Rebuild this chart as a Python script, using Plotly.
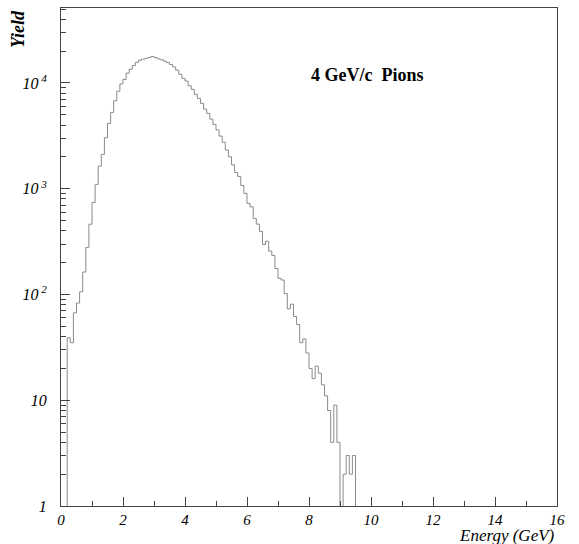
import numpy as np
import plotly.graph_objects as go

# Histogram: 160 bins of 0.1 GeV from 0 to 16 GeV
bin_width = 0.1
bin_low = np.round(np.arange(160) * bin_width, 1)

counts_main = [
    0, 0, 39, 35, 67, 83, 106, 163, 279, 462,            # 0.0 - 0.9
    741, 1100, 1636, 2113, 3033, 4150, 5275, 6800, 8350, 9800,   # 1.0 - 1.9
    10800, 12400, 13500, 14600, 15700, 16400, 16800, 17100, 17400, 17800,  # 2.0 - 2.9
    17400, 16900, 16600, 16100, 15600, 14950, 14200, 13240, 12100, 11050,  # 3.0 - 3.9
    10420, 9410, 8700, 7800, 7150, 6410, 5660, 5155, 4555, 4060,  # 4.0 - 4.9
    3600, 3150, 2750, 2318, 2004, 1683, 1426, 1307, 1074, 903,    # 5.0 - 5.9
    726, 674, 524, 463, 395, 297, 319, 257, 234, 176,             # 6.0 - 6.9
    142, 137, 102, 73, 81, 62, 52, 35, 38, 28,                    # 7.0 - 7.9
    20, 16, 21, 18, 14, 11, 8, 4, 9, 4,                           # 8.0 - 8.9
    0, 2, 3, 2, 3,                                                # 9.0 - 9.4
]
counts = np.array(counts_main + [0] * (160 - len(counts_main)), dtype=float)

y_tickvals = [1, 10, 100, 1000, 10000]
y_ticktext = ["1", "10", "10<sup> 2</sup>", "10<sup> 3</sup>", "10<sup> 4</sup>"]
x_tickvals = [0, 2, 4, 6, 8, 10, 12, 14, 16]
x_ticktext = ["0", "2", "4", "6", "8", "10", "12", "14", "16"]

# step outline (empty bins pushed below the visible log range)
x_step = np.append(bin_low, 16.0)
y_disp = np.where(counts > 0, counts, 1e-3)
y_step = np.append(y_disp, y_disp[-1])

fig = go.Figure()
fig.add_trace(go.Scatter(
    x=x_step, y=y_step, mode="lines", line_shape="hv",
    line=dict(color="#8a8a8a", width=1), showlegend=False, hoverinfo="skip",
))

frame = "#444444"
ytickfont = dict(family="Liberation Serif", size=16, color="black", style="italic")
xtickfont = dict(family="Liberation Serif", size=15, color="black", style="italic")
minor_y = [k * 10 ** d for d in range(0, 4) for k in range(2, 10)] + [20000, 30000, 40000, 50000]

fig.update_layout(
    width=579, height=544,
    margin=dict(l=61, r=22, t=8, b=38),
    paper_bgcolor="white", plot_bgcolor="white",
    xaxis=dict(
        range=[0, 16], showgrid=False, zeroline=False,
        showline=True, mirror=True, linecolor=frame, linewidth=1,
        ticks="inside", ticklen=9, tickwidth=1, tickcolor=frame,
        tickvals=x_tickvals, ticktext=x_ticktext, tickfont=xtickfont,
        ticklabelstandoff=0,
        minor=dict(ticks="inside", ticklen=5, tickwidth=1, tickcolor=frame,
                   tickvals=list(range(1, 16, 2))),
    ),
    yaxis=dict(
        type="log", range=[0, 4.709], showgrid=False, zeroline=False,
        showline=True, mirror=True, linecolor=frame, linewidth=1,
        ticks="inside", ticklen=9, tickwidth=1, tickcolor=frame,
        tickvals=y_tickvals, ticktext=y_ticktext, tickfont=ytickfont,
        ticklabelstandoff=10,
        minor=dict(ticks="inside", ticklen=5, tickwidth=1, tickcolor=frame,
                   tickvals=minor_y),
    ),
    annotations=[
        dict(text="<b><i>Yield</i></b>", xref="paper", yref="paper", x=0, y=1,
             xshift=-43, xanchor="center", yanchor="top", textangle=-90, showarrow=False,
             font=dict(family="Liberation Serif", size=18, color="black")),
        dict(text="<i>Energy (GeV)</i>", xref="paper", yref="paper", x=1, y=0,
             yshift=-29, xanchor="right", yanchor="middle", showarrow=False,
             font=dict(family="Liberation Serif", size=17, color="black")),
        dict(text="<b>4 GeV/c\u00a0\u00a0Pions</b>", xref="paper", yref="paper",
             x=0.617, y=0.865, xanchor="center", yanchor="middle", showarrow=False,
             font=dict(family="Liberation Serif", size=18, color="black")),
    ],
)

fig.write_html("out.html")
